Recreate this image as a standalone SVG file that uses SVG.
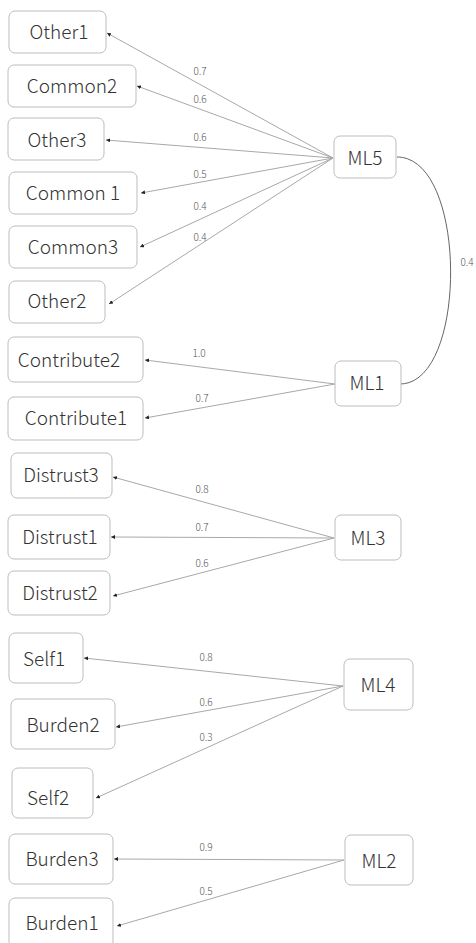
<svg xmlns="http://www.w3.org/2000/svg" width="476" height="943" viewBox="0 0 476 943">
  <style>
    .box { fill: #ffffff; stroke: #bdbdbd; stroke-width: 1; }
    .name { font-family: "Noto Sans CJK JP", "Noto Sans", sans-serif; font-size: 19px; font-weight: 300; fill: #333333; text-anchor: middle; }
    .edge { fill: none; stroke: #a8a8a8; stroke-width: 1; marker-end: url(#tip); }
    .cov { fill: none; stroke: #666666; stroke-width: 1; }
    .w { font-family: "Noto Sans CJK JP", "Noto Sans", sans-serif; font-size: 10px; font-weight: 300; fill: #555555; text-anchor: middle; }
  </style>
  <defs>
    <marker id="tip" viewBox="0 0 6 6" refX="6" refY="3" markerWidth="4" markerHeight="4" markerUnits="userSpaceOnUse" orient="auto">
      <path d="M0,0 L6,3 L0,6 Z" fill="#222222"/>
    </marker>
  </defs>
  <rect width="476" height="943" fill="#ffffff"/>

  <!-- loadings and the factor covariance -->
  <g id="connectors">
    <line class="edge" x1="333" y1="158" x2="107" y2="33"/>
    <line class="edge" x1="333" y1="158" x2="137" y2="86"/>
    <line class="edge" x1="333" y1="158" x2="106" y2="140"/>
    <line class="edge" x1="333" y1="158" x2="141" y2="193"/>
    <line class="edge" x1="333" y1="158" x2="140" y2="247"/>
    <line class="edge" x1="333" y1="158" x2="109" y2="304"/>
    <line class="edge" x1="335" y1="384" x2="145" y2="360"/>
    <line class="edge" x1="335" y1="384" x2="145" y2="418"/>
    <line class="edge" x1="334" y1="538" x2="113" y2="477"/>
    <line class="edge" x1="334" y1="538" x2="111" y2="537"/>
    <line class="edge" x1="334" y1="538" x2="113" y2="596"/>
    <line class="edge" x1="343" y1="686" x2="84" y2="658"/>
    <line class="edge" x1="343" y1="686" x2="116" y2="727"/>
    <line class="edge" x1="343" y1="686" x2="96" y2="798"/>
    <line class="edge" x1="344" y1="860" x2="114" y2="859"/>
    <line class="edge" x1="344" y1="860" x2="117" y2="926"/>
    <path class="cov" d="M397,157 C468,157 468,384 400,384"/>

    <text class="w" x="200" y="75">0.7</text>
    <text class="w" x="200" y="103">0.6</text>
    <text class="w" x="200" y="141">0.6</text>
    <text class="w" x="200" y="178">0.5</text>
    <text class="w" x="200" y="210">0.4</text>
    <text class="w" x="200" y="241">0.4</text>
    <text class="w" x="199" y="357">1.0</text>
    <text class="w" x="202" y="402">0.7</text>
    <text class="w" x="202" y="493">0.8</text>
    <text class="w" x="202" y="531">0.7</text>
    <text class="w" x="202" y="567">0.6</text>
    <text class="w" x="206" y="661">0.8</text>
    <text class="w" x="206" y="706">0.6</text>
    <text class="w" x="206" y="741">0.3</text>
    <text class="w" x="206" y="851">0.9</text>
    <text class="w" x="206" y="895">0.5</text>
    <text class="w" x="467" y="266">0.4</text>
  </g>

  <!-- indicators -->
  <g id="Other1"><rect class="box" x="9" y="11" width="97" height="42" rx="6"/><text class="name" x="59" y="39">Other1</text></g>
  <g id="Common2"><rect class="box" x="8" y="65" width="128" height="42" rx="6"/><text class="name" x="72" y="93">Common2</text></g>
  <g id="Other3"><rect class="box" x="8" y="118" width="96" height="42" rx="6"/><text class="name" x="57" y="147">Other3</text></g>
  <g id="Common1"><rect class="box" x="9" y="172" width="128" height="42" rx="6"/><text class="name" x="73" y="200">Common 1</text></g>
  <g id="Common3"><rect class="box" x="9" y="226" width="128" height="42" rx="6"/><text class="name" x="73" y="254">Common3</text></g>
  <g id="Other2"><rect class="box" x="9" y="281" width="96" height="42" rx="6"/><text class="name" x="57" y="308">Other2</text></g>
  <g id="Contribute2"><rect class="box" x="8" y="337" width="135" height="45" rx="6"/><text class="name" x="69" y="367">Contribute2</text></g>
  <g id="Contribute1"><rect class="box" x="8" y="397" width="135" height="43" rx="6"/><text class="name" x="76" y="425">Contribute1</text></g>
  <g id="Distrust3"><rect class="box" x="11" y="453" width="101" height="45" rx="6"/><text class="name" x="61" y="482">Distrust3</text></g>
  <g id="Distrust1"><rect class="box" x="8" y="515" width="102" height="44" rx="6"/><text class="name" x="60" y="544">Distrust1</text></g>
  <g id="Distrust2"><rect class="box" x="8" y="571" width="102" height="44" rx="6"/><text class="name" x="60" y="600">Distrust2</text></g>
  <g id="Self1"><rect class="box" x="9" y="633" width="74" height="50" rx="6"/><text class="name" x="44" y="666">Self1</text></g>
  <g id="Burden2"><rect class="box" x="11" y="699" width="104" height="50" rx="6"/><text class="name" x="63" y="732">Burden2</text></g>
  <g id="Self2"><rect class="box" x="12" y="768" width="81" height="50" rx="6"/><text class="name" x="48" y="805">Self2</text></g>
  <g id="Burden3"><rect class="box" x="9" y="834" width="104" height="50" rx="6"/><text class="name" x="62" y="866">Burden3</text></g>
  <g id="Burden1"><rect class="box" x="9" y="898" width="104" height="50" rx="6"/><text class="name" x="62" y="930">Burden1</text></g>

  <!-- factors -->
  <g id="ML5"><rect class="box" x="334" y="136" width="62" height="42" rx="6"/><text class="name" x="365" y="165">ML5</text></g>
  <g id="ML1"><rect class="box" x="335" y="361" width="66" height="45" rx="6"/><text class="name" x="367" y="390">ML1</text></g>
  <g id="ML3"><rect class="box" x="335" y="515" width="66" height="45" rx="6"/><text class="name" x="368" y="545">ML3</text></g>
  <g id="ML4"><rect class="box" x="344" y="659" width="69" height="51" rx="6"/><text class="name" x="378" y="692">ML4</text></g>
  <g id="ML2"><rect class="box" x="345" y="835" width="68" height="50" rx="6"/><text class="name" x="379" y="868">ML2</text></g>
</svg>
